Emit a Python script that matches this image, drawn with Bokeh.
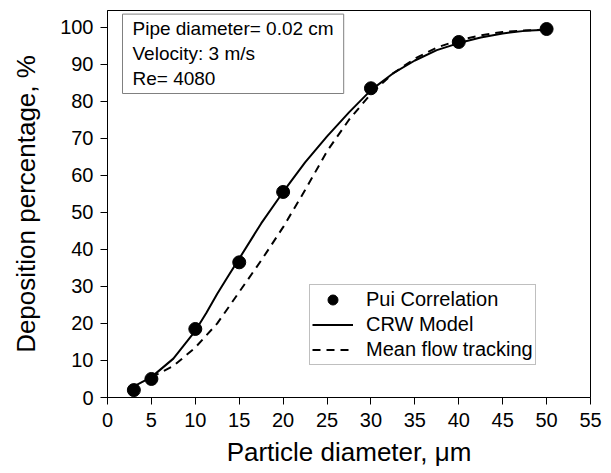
from bokeh.plotting import figure
from bokeh.models import Range1d, Label, Legend, LegendItem, FixedTicker
from bokeh.embed import file_html
from bokeh.resources import INLINE

# Pui correlation points
pui_x = [3, 5, 10, 15, 20, 30, 40, 50]
pui_y = [2, 5, 18.5, 36.5, 55.5, 83.5, 96, 99.5]

# CRW model curve
crw_x = [3, 5, 7.5, 10, 11.25, 12.5, 13.75, 15, 17.5, 20, 22.5, 25, 27.5, 30, 32.5, 35, 37.5, 40, 42.5, 45, 47.5, 50]
crw_y = [3, 5.5, 10.5, 18, 22.8, 28, 32.8, 37.5, 47, 55.5, 63.5, 70.5, 77, 83, 87.5, 91, 93.8, 95.7, 97.2, 98.3, 99.0, 99.3]

# Mean flow tracking curve
mft_x = [5, 7.5, 10, 12.5, 15, 17.5, 20, 22.5, 25, 27.5, 30, 32.5, 35, 37.5, 40, 42.5, 45, 47.5, 50]
mft_y = [5.5, 8.5, 13.5, 20, 28.5, 37, 46, 56, 66.5, 75, 82, 87.5, 91.5, 94.5, 96.5, 97.8, 98.7, 99.1, 99.3]

x_ticks = [0, 5, 10, 15, 20, 25, 30, 35, 40, 45, 50, 55]
y_ticks = [0, 10, 20, 30, 40, 50, 60, 70, 80, 90, 100]

FONT = "Liberation Sans"

p = figure(width=611, height=473, output_backend="svg", toolbar_location=None,
           x_range=Range1d(0, 55), y_range=Range1d(0, 104.5),
           min_border_left=107, min_border_right=21, min_border_top=10, min_border_bottom=76)
p.grid.visible = False
p.outline_line_color = "black"
p.outline_line_width = 1
p.background_fill_color = "white"
p.border_fill_color = "white"

for ax in (p.xaxis[0], p.yaxis[0]):
    ax.major_label_text_font = FONT
    ax.major_label_text_font_size = "20px"
    ax.major_label_text_color = "black"
    ax.axis_label_text_font = FONT
    ax.axis_label_text_font_size = "26px"
    ax.axis_label_text_font_style = "normal"
    ax.axis_label_text_color = "black"
    ax.minor_tick_line_color = None
    ax.major_tick_out = 7
    ax.major_tick_in = 0
    ax.axis_line_color = "black"
    ax.major_tick_line_color = "black"

p.xaxis.ticker = FixedTicker(ticks=x_ticks)
p.yaxis.ticker = FixedTicker(ticks=y_ticks)
p.xaxis.axis_label = "Particle diameter, μm"
p.yaxis.axis_label = "Deposition percentage, %"
p.xaxis.major_label_standoff = 8
p.yaxis.major_label_standoff = 7
p.xaxis.axis_label_standoff = 7
p.yaxis.axis_label_standoff = 16

r_crw = p.line(crw_x, crw_y, line_color="black", line_width=2)
r_mft = p.line(mft_x, mft_y, line_color="black", line_width=2, line_dash="8 6")
r_pui = p.scatter(pui_x, pui_y, size=13, fill_color="black", line_color="black")

legend = Legend(items=[
    LegendItem(label="Pui Correlation", renderers=[r_pui]),
    LegendItem(label="CRW Model", renderers=[r_crw]),
    LegendItem(label="Mean flow tracking", renderers=[r_mft]),
], location=(202, 32))
legend.label_text_font = FONT
legend.label_text_font_size = "20px"
legend.label_text_color = "black"
legend.glyph_width = 41
legend.glyph_height = 25
legend.label_height = 25
legend.label_standoff = 13
legend.spacing = 0
legend.padding = 2
legend.margin = 0
legend.border_line_color = "#808080"
legend.border_line_width = 1
legend.background_fill_alpha = 1
p.add_layout(legend)

info = Label(x=15, y=304, x_units="screen", y_units="screen",
             text="Pipe diameter= 0.02 cm\nVelocity: 3 m/s\nRe= 4080",
             text_font=FONT, text_font_size="19px", text_color="black",
             text_line_height=1.2,
             border_line_color="#808080", border_line_width=1,
             background_fill_color="white",
             padding=dict(left=10, right=10, top=4, bottom=4))
p.add_layout(info)

open("out.html", "w").write(file_html(p, INLINE))
